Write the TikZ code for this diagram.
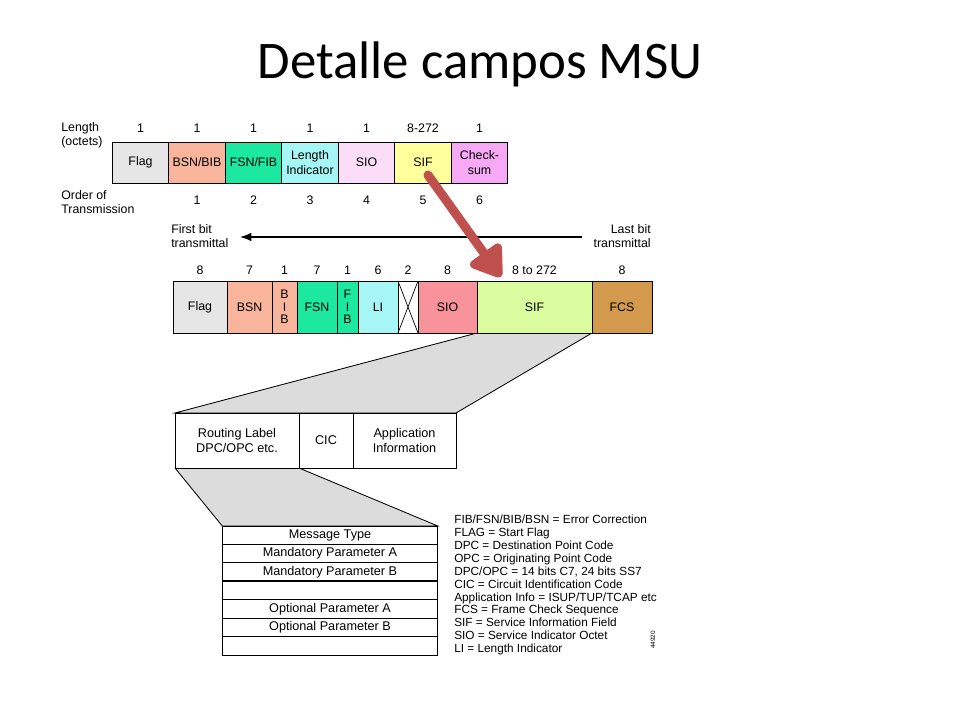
\documentclass[tikz,border=0pt]{standalone}
\usepackage{fontspec}
\setmainfont{Liberation Sans}
\newfontfamily\titlefont{Carlito}
\usetikzlibrary{arrows.meta,backgrounds}

\definecolor{flaggray}{HTML}{E6E6E6}
\definecolor{bsnsalmon}{HTML}{F9B49C}
\definecolor{fsngreen}{HTML}{1DE8A0}
\definecolor{licyan}{HTML}{A6F6F6}
\definecolor{siopink}{HTML}{FCDDF8}
\definecolor{sifyellow}{HTML}{FFFF9C}
\definecolor{chkviolet}{HTML}{F7A9F5}
\definecolor{siored}{HTML}{F8939C}
\definecolor{sifgreen}{HTML}{DAFB9E}
\definecolor{fcstan}{HTML}{D39A4E}
\definecolor{zoomgray}{HTML}{DCDCDC}
\definecolor{pptred}{HTML}{C0504D}

\begin{document}
\begin{tikzpicture}[x=0.025cm, y=-0.025cm]
    \tikzstyle{field}=[draw, line width=0.6pt, inner sep=0pt, outer sep=0pt, align=center, font=\fontsize{8.8}{10.5}\selectfont]
    \tikzstyle{octet}=[field, minimum width=1.4125cm, minimum height=1.025cm]
    \tikzstyle{bits}=[field, minimum height=1.3cm]
    \tikzstyle{part}=[field, minimum height=1.375cm, font=\fontsize{9}{11}\selectfont]
    \tikzstyle{row}=[field, minimum width=5.385cm, minimum height=0.4607cm, font=\fontsize{9}{10}\selectfont]
    \tikzstyle{num}=[inner sep=0pt, font=\fontsize{8.8}{10}\selectfont]
    \tikzstyle{note}=[inner sep=0pt, align=left, font=\fontsize{8.8}{10}\selectfont]

    \useasboundingbox (0,0) rectangle (960,720);

    \node[anchor=base, font=\titlefont\fontsize{37.6}{40}\selectfont] (title) at (480,79) {Detalle campos MSU};

    % frame format by octets
    \node[note, anchor=west] (lenlab) at (61,135) {Length\\(octets)};
    \node[octet, fill=flaggray] (flag1) at (140.5,162.5) {Flag};
    \node[octet, fill=bsnsalmon] (bsnbib) at (197,162.5) {BSN/BIB};
    \node[octet, fill=fsngreen] (fsnfib) at (253.5,162.5) {FSN/FIB};
    \node[octet, fill=licyan] (len) at (310,162.5) {Length\\Indicator};
    \node[octet, fill=siopink] (sio1) at (366.5,162.5) {SIO};
    \node[octet, fill=sifyellow] (sif1) at (423,162.5) {SIF};
    \node[octet, fill=chkviolet] (chk) at (479.5,162.5) {Check-\\sum};

    \node[num] (l1) at (140.5,128) {1};
    \node[num] (l2) at (197,128) {1};
    \node[num] (l3) at (253.5,128) {1};
    \node[num] (l4) at (310,128) {1};
    \node[num] (l5) at (366.5,128) {1};
    \node[num] (l6) at (423,128) {8-272};
    \node[num] (l7) at (479.5,128) {1};

    \node[note, anchor=west] (order) at (61,202) {Order of\\Transmission};
    \node[num] (o1) at (197,200) {1};
    \node[num] (o2) at (253.5,200) {2};
    \node[num] (o3) at (310,200) {3};
    \node[num] (o4) at (366.5,200) {4};
    \node[num] (o5) at (423,200) {5};
    \node[num] (o6) at (479.5,200) {6};

    % frame format by bits
    \node[note, anchor=west] (firstbit) at (171,236) {First bit\\transmittal};
    \node[note, anchor=east, align=right] (lastbit) at (651,236) {Last bit\\transmittal};
    \coordinate (laststart) at (582,237);
    \coordinate (firstend) at (240,237);
    \draw[line width=0.8pt, -{Latex[length=8pt,width=6pt]}] (laststart) -- (firstend);

    \node[bits, fill=flaggray, minimum width=1.35cm] (flag2) at (200,307) {Flag};
    \node[bits, fill=bsnsalmon, minimum width=1.125cm] (bsn) at (249.5,307) {BSN};
    \node[bits, fill=bsnsalmon, minimum width=0.625cm, font=\fontsize{8.8}{8.9}\selectfont] (bib) at (284.5,307) {B\\I\\B};
    \node[bits, fill=fsngreen, minimum width=1cm] (fsn) at (317,307) {FSN};
    \node[bits, fill=fsngreen, minimum width=0.525cm, font=\fontsize{8.8}{8.9}\selectfont] (fib) at (347.5,307) {F\\I\\B};
    \node[bits, fill=licyan, minimum width=1cm] (li) at (378,307) {LI};
    \node[bits, fill=white, minimum width=0.5cm] (spare) at (408,307) {};
    \node[bits, fill=siored, minimum width=1.475cm] (sio2) at (447.5,307) {SIO};
    \node[bits, fill=sifgreen, minimum width=2.875cm] (sif2) at (534.5,307) {SIF};
    \node[bits, fill=fcstan, minimum width=1.5cm] (fcs) at (622,307) {FCS};
    \draw[line width=0.5pt] (spare.north west) -- (spare.south east) (spare.south west) -- (spare.north east);

    \node[num] (b1) at (200,270) {8};
    \node[num] (b2) at (249.5,270) {7};
    \node[num] (b3) at (284.5,270) {1};
    \node[num] (b4) at (317,270) {7};
    \node[num] (b5) at (347.5,270) {1};
    \node[num] (b6) at (378,270) {6};
    \node[num] (b7) at (408,270) {2};
    \node[num] (b8) at (447.5,270) {8};
    \node[num] (b9) at (534.5,270) {8 to 272};
    \node[num] (b10) at (622,270) {8};

    \coordinate (redstart) at (428,175);
    \coordinate (redend) at (501,277);
    \draw[pptred, line width=6.4pt, line cap=round, -{Triangle[length=24pt,width=30pt,round]}] (redstart) -- (redend);

    % SIF contents
    \node[part, minimum width=3.1cm] (routing) at (237,440.5) {Routing Label\\DPC/OPC etc.};
    \node[part, minimum width=1.35cm] (cic) at (326,440.5) {CIC};
    \node[part, minimum width=2.575cm] (appinfo) at (404.5,440.5) {Application\\Information};

    \node[row] (msgtype) at (330,535.2) {Message Type};
    \node[row] (mpa) at (330,553.6) {Mandatory Parameter A};
    \node[row] (mpb) at (330,572.1) {Mandatory Parameter B};
    \node[row] (blank1) at (330,590.5) {};
    \node[row] (opa) at (330,608.9) {Optional Parameter A};
    \node[row] (opb) at (330,627.4) {Optional Parameter B};
    \node[row] (blank2) at (330,645.8) {};
    \draw[line width=1.3pt] (mpb.south west) -- (mpb.south east);

    \begin{scope}[on background layer]
      \filldraw[fill=zoomgray, line width=0.6pt] (sif2.south west) -- (routing.north west) -- (appinfo.north east) -- (sif2.south east);
      \filldraw[fill=zoomgray, line width=0.6pt] (routing.south west) -- (msgtype.north west) -- (msgtype.north east) -- (routing.south east);
    \end{scope}

    \node[note, anchor=north west, font=\fontsize{8.4}{9.15}\selectfont] (legend) at (454,515) {FIB/FSN/BIB/BSN = Error Correction\\FLAG = Start Flag\\DPC = Destination Point Code\\OPC = Originating Point Code\\DPC/OPC = 14 bits C7, 24 bits SS7\\CIC = Circuit Identification Code\\Application Info = ISUP/TUP/TCAP etc\\FCS = Frame Check Sequence\\SIF = Service Information Field\\SIO = Service Indicator Octet\\LI = Length Indicator};
    \node[rotate=90, inner sep=0pt, font=\fontsize{4.5}{5}\selectfont] (fignum) at (653,640) {44920};
\end{tikzpicture}
\end{document}
